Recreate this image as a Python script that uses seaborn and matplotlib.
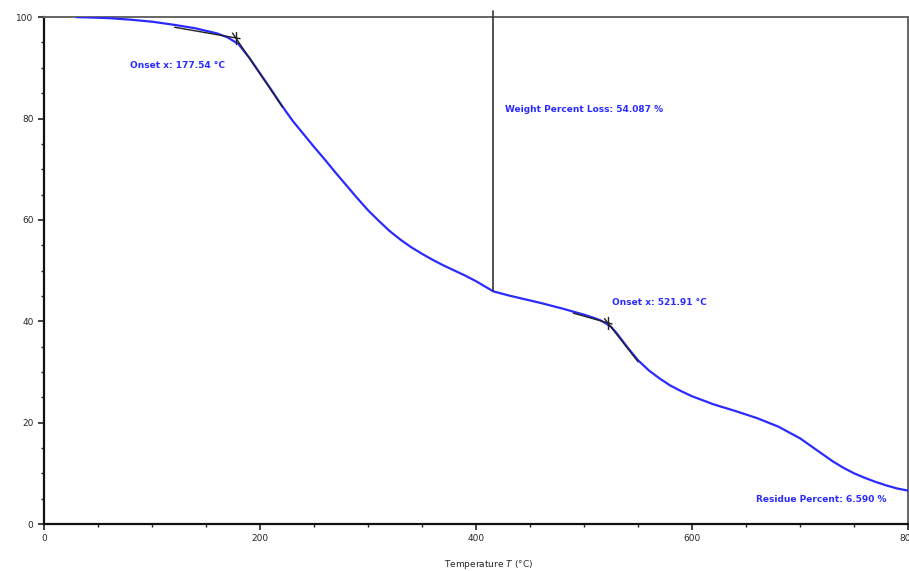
import numpy as np
import pandas as pd
import matplotlib
matplotlib.use("Agg")
import matplotlib.pyplot as plt
import seaborn as sns

# TGA curve: temperature (°C) vs remaining weight (%)
temperature = [30, 40, 60, 80, 100, 120, 140, 160, 170, 180, 190, 200, 210, 220,
               230, 240, 250, 260, 270, 280, 290, 300, 310, 320, 330, 340, 350,
               360, 370, 380, 390, 400, 416, 430, 440, 460, 480, 490, 500, 510,
               515, 520, 525, 530, 535, 540, 545, 550, 560, 570, 580, 590, 600,
               620, 640, 660, 680, 700, 710, 720, 730, 740, 750, 760, 770, 780,
               790, 800]
weight = [100.0, 99.95, 99.8, 99.5, 99.1, 98.5, 97.8, 96.8, 96.0, 94.7, 92.0, 88.9,
          85.8, 82.6, 79.6, 77.0, 74.4, 71.9, 69.3, 66.8, 64.3, 61.9, 59.8, 57.8,
          56.1, 54.6, 53.3, 52.1, 51.0, 50.0, 49.0, 47.9, 45.9, 45.1, 44.6, 43.6,
          42.5, 41.9, 41.3, 40.6, 40.2, 39.6, 38.9, 37.7, 36.3, 34.9, 33.6, 32.3,
          30.3, 28.7, 27.3, 26.2, 25.2, 23.6, 22.3, 20.9, 19.2, 16.9, 15.4, 13.9,
          12.4, 11.1, 10.0, 9.1, 8.3, 7.6, 7.0, 6.59]

# Onset analyses: baseline tangent start, onset point, steep tangent end
onset_temps = [177.54, 521.91]
onset_weights = [95.9, 39.7]
baseline_start = [(121, 98.0), (490, 41.6)]
steep_end = [(221, 82.2), (550, 32.0)]

# Weight-loss step marker
loss_temp = 416
loss_percent = 54.087
residue_percent = 6.590

x_ticks = [0, 200, 400, 600, 800]
y_ticks = [0, 20, 40, 60, 80, 100]

sns.set_style("ticks")
plt.rcParams["font.family"] = ["DejaVu Sans"]

fig = plt.figure(figsize=(9.09, 5.71), dpi=100)
ax = fig.add_axes([0.0484, 0.0823, 0.9506, 0.8877])

df = pd.DataFrame({"Temperature": temperature, "Weight": weight})
sns.lineplot(data=df, x="Temperature", y="Weight", ax=ax, color="#2b2bff",
             linewidth=1.6, zorder=3)

# tangent constructions
for (bx, by), ot, ow, (sx, sy) in zip(baseline_start, onset_temps, onset_weights, steep_end):
    ax.plot([bx, ot + 4], [by, ow + (ow - by) / (ot - bx) * 4], color="#222222",
            linewidth=1.0, zorder=4)
    ax.plot([ot - 3, sx], [ow + (sy - ow) / (sx - ot) * -3, sy], color="#222222",
            linewidth=1.0, zorder=4)
    ax.plot([ot, ot], [ow - 1.2, ow + 1.2], color="#222222", linewidth=1.0, zorder=4)

# step height line
ax.plot([loss_temp, loss_temp], [100 - loss_percent, 101.2], color="#333333",
        linewidth=1.2, zorder=4, clip_on=False)

txt = dict(color="#2b2bff", fontsize=6.5, fontweight="bold")
ax.text(80, 90.0, "Onset x: 177.54 °C", **txt)
ax.text(427, 81.3, f"Weight Percent Loss: {loss_percent:.3f} %", **txt)
ax.text(526, 43.3, "Onset x: 521.91 °C", **txt)
ax.text(659, 4.4, f"Residue Percent: {residue_percent:.3f} %", **txt)

ax.set_xlim(0, 800)
ax.set_ylim(0, 100)
ax.set_xticks(x_ticks)
ax.set_yticks(y_ticks)
ax.set_xticks(np.arange(0, 801, 50), minor=True)
ax.set_yticks(np.arange(0, 101, 5), minor=True)
ax.tick_params(axis="both", which="major", labelsize=6.5, length=4, width=1.2,
               direction="out", color="#222222")
ax.tick_params(axis="both", which="minor", length=2.5, width=1.0, color="#222222")
ax.set_xlabel("Temperature $T$ (°C)", fontsize=6.5, labelpad=12)
ax.xaxis.set_label_coords(0.515, -0.068)
ax.set_ylabel("")

for side in ["left", "bottom"]:
    ax.spines[side].set_color("#111111")
    ax.spines[side].set_linewidth(1.6)
for side in ["top", "right"]:
    ax.spines[side].set_visible(True)
    ax.spines[side].set_color("#666666")
    ax.spines[side].set_linewidth(1.4)

fig.savefig("out.png", dpi=100)
